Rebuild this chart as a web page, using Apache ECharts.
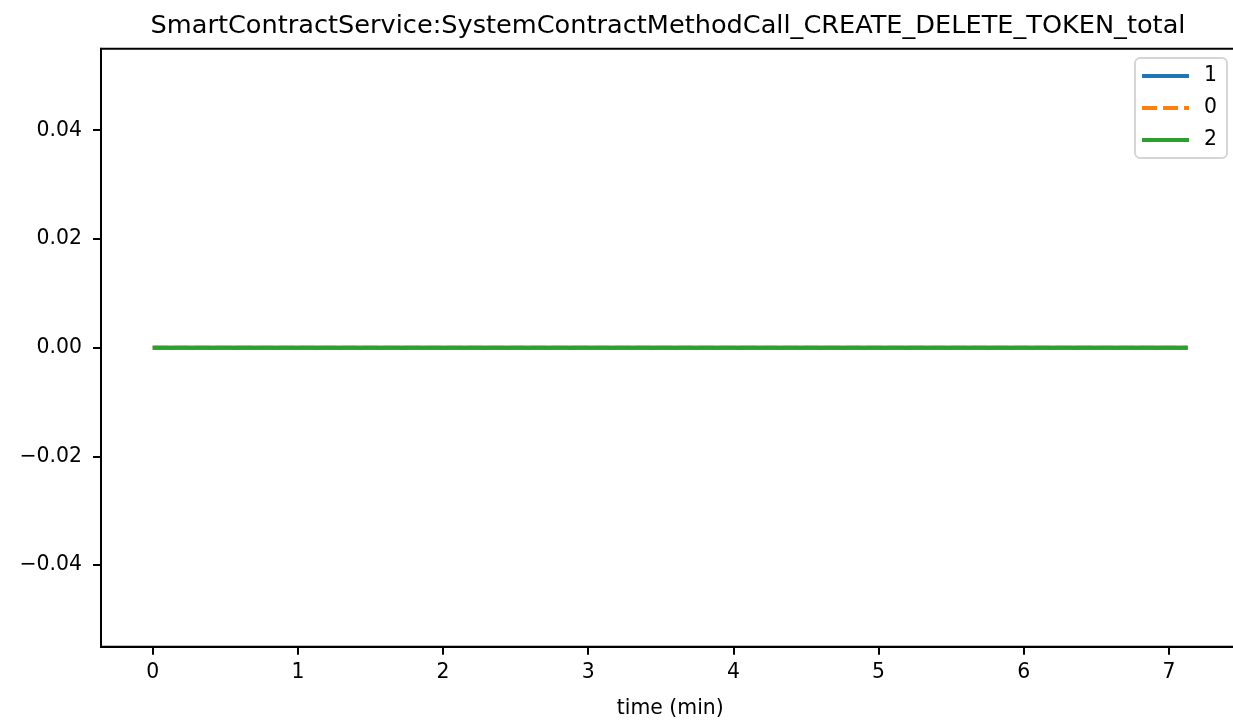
<!DOCTYPE html>
<html>
<head>
<meta charset="utf-8">
<script src="https://cdn.jsdelivr.net/npm/echarts@6/dist/echarts.min.js"></script>
<style>
html,body{margin:0;padding:0;overflow:hidden;background:#fff;}
#c{width:1240px;height:721px;}
</style>
</head>
<body>
<div id="c"></div>
<script>
// time in minutes
const times = [0, 0.25, 0.5, 0.75, 1, 1.25, 1.5, 1.75, 2, 2.25, 2.5, 2.75, 3, 3.25, 3.5, 3.75, 4, 4.25, 4.5, 4.75, 5, 5.25, 5.5, 5.75, 6, 6.25, 6.5, 6.75, 7, 7.13];
const series1 = [0,0,0,0,0,0,0,0,0,0,0,0,0,0,0,0,0,0,0,0,0,0,0,0,0,0,0,0,0,0];
const series0 = [0,0,0,0,0,0,0,0,0,0,0,0,0,0,0,0,0,0,0,0,0,0,0,0,0,0,0,0,0,0];
const series2 = [0,0,0,0,0,0,0,0,0,0,0,0,0,0,0,0,0,0,0,0,0,0,0,0,0,0,0,0,0,0];
const xTicks = [0, 1, 2, 3, 4, 5, 6, 7];
const yTicks = [-0.04, -0.02, 0, 0.02, 0.04];
const seriesNames = ['1', '0', '2'];
const titleText = 'SmartContractService:SystemContractMethodCall_CREATE_DELETE_TOKEN_total';
const xName = 'time (min)';

const FONT = 'DejaVu Sans';
const pair = arr => times.map((t, i) => [t, arr[i]]);
const fmtY = v => {
  const s = Math.abs(v).toFixed(2);
  return v < 0 ? '\u2212' + s : s;
};
const SOLID_ICON = 'path://M0,0H47V4H0Z';
const DASH_ICON = 'path://M0,0H15V4H0Z M21,0H36V4H21Z M42,0H47V4H42Z';

const chart = echarts.init(document.getElementById('c'), null, {renderer: 'canvas'});
chart.setOption({
  animation: false,
  backgroundColor: '#ffffff',
  title: {
    text: titleText,
    left: 663, textAlign: 'center',
    top: 8,
    textStyle: {fontFamily: FONT, fontSize: 25.6, fontWeight: 'normal', color: '#000'}
  },
  grid: {left: 101, right: 0.5, top: 48.7, bottom: 74.3, containLabel: false,
    outerBoundsMode: 'none',
    show: true, borderColor: '#000', borderWidth: 2, backgroundColor: 'transparent'},
  legend: {
    orient: 'vertical',
    right: 13, top: 58,
    padding: [8, 10, 8, 7],
    itemWidth: 47, itemHeight: 4, itemGap: 12,
    backgroundColor: 'rgba(255,255,255,0.8)',
    borderColor: '#d5d5d5', borderWidth: 2, borderRadius: 5,
    textStyle: {fontFamily: FONT, fontSize: 20.4, lineHeight: 20, color: '#000', padding: [0, 0, 0, 10]},
    data: [
      {name: seriesNames[0], icon: SOLID_ICON},
      {name: seriesNames[1], icon: DASH_ICON},
      {name: seriesNames[2], icon: SOLID_ICON}
    ]
  },
  xAxis: {
    type: 'value',
    min: -0.3565, max: 7.4865,
    name: xName, nameLocation: 'middle', nameGap: 52,
    nameTextStyle: {fontFamily: FONT, fontSize: 20.4, color: '#000'},
    axisLine: {show: true, onZero: false, lineStyle: {color: '#000', width: 2}},
    axisTick: {show: true, length: 8, lineStyle: {color: '#000', width: 2}, customValues: xTicks},
    axisLabel: {fontFamily: FONT, fontSize: 20.4, color: '#000', margin: 16, customValues: xTicks,
      formatter: v => String(v)},
    splitLine: {show: false}
  },
  yAxis: {
    type: 'value',
    min: -0.055, max: 0.055,
    axisLine: {show: true, onZero: false, lineStyle: {color: '#000', width: 2}},
    axisTick: {show: true, length: 8, lineStyle: {color: '#000', width: 2}, customValues: yTicks},
    axisLabel: {fontFamily: FONT, fontSize: 20.4, color: '#000', margin: 19, customValues: yTicks,
      formatter: fmtY},
    splitLine: {show: false}
  },
  series: [
    {name: seriesNames[0], type: 'line', data: pair(series1), symbol: 'none', z: 2,
      lineStyle: {color: '#1f77b4', width: 4}, itemStyle: {color: '#1f77b4'}},
    {name: seriesNames[1], type: 'line', data: pair(series0), symbol: 'none', z: 3,
      lineStyle: {color: '#ff7f0e', width: 4, type: [15, 6]}, itemStyle: {color: '#ff7f0e'}},
    {name: seriesNames[2], type: 'line', data: pair(series2), symbol: 'none', z: 4,
      lineStyle: {color: '#2ca02c', width: 4}, itemStyle: {color: '#2ca02c'}}
  ]
});
</script>
</body>
</html>
